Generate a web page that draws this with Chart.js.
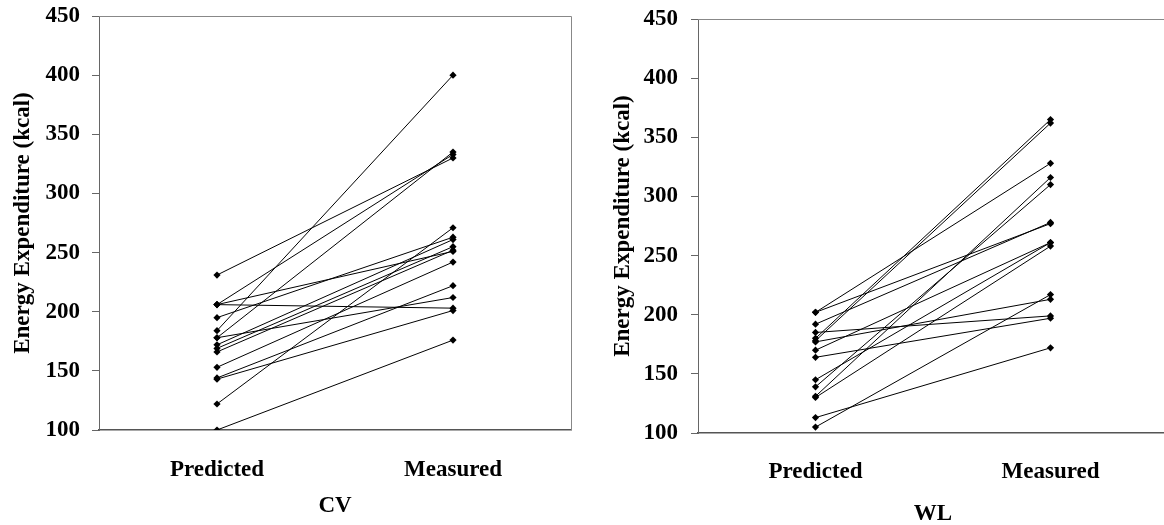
<!DOCTYPE html>
<html><head><meta charset="utf-8">
<script src="https://cdn.jsdelivr.net/npm/chart.js@4"></script>
<style>
html,body{margin:0;padding:0;background:#fff;overflow:hidden;width:1164px;height:525px;position:relative;}
.box{position:absolute;}
</style></head><body>
<div class="box" style="left:0;top:0;width:582px;height:525px"><canvas id="c1"></canvas></div>
<div class="box" style="left:600px;top:3px;width:580px;height:525px"><canvas id="c2"></canvas></div>
<script>
const categories = ['Predicted', 'Measured'];
const yTicks = [100, 150, 200, 250, 300, 350, 400, 450];
const yTitle = 'Energy Expenditure (kcal)';

// CV group: each index is one subject (Predicted -> Measured)
const cvPredicted = [231, 206, 206, 206, 195, 184, 178, 178, 172, 169, 166, 153, 144, 143, 122, 100];
const cvMeasured  = [330, 333, 203, 251, 263, 400, 335, 212, 261, 255, 252, 242, 222, 201, 271, 176];

// WL group
const wlPredicted = [202, 202, 192, 185, 180, 178, 177, 170, 164, 145, 139, 131, 130, 113, 105];
const wlMeasured  = [328, 277, 278, 199, 365, 362, 213, 261, 197, 261, 310, 316, 258, 172, 217];

const FONT = {family: "'Liberation Serif', 'Times New Roman', serif", size: 23, weight: 'bold'};

const frame = {
  id: 'frame',
  afterDraw(chart) {
    const {ctx, chartArea: a} = chart;
    ctx.save();
    ctx.strokeStyle = '#888';
    ctx.lineWidth = 1;
    ctx.beginPath();
    ctx.moveTo(a.left, a.top + 0.5);
    ctx.lineTo(a.right + 0.5, a.top + 0.5);
    ctx.lineTo(a.right + 0.5, a.bottom);
    ctx.stroke();
    ctx.restore();
  }
};

function makeChart(id, pred, meas, title, o) {
  const datasets = pred.map((p, i) => ({
    data: [p, meas[i]],
    borderColor: '#000', backgroundColor: '#000', borderWidth: 1,
    pointStyle: 'rectRot', pointRadius: 3.6, pointBorderWidth: 0,
    pointBackgroundColor: '#000', tension: 0, fill: false
  }));
  return new Chart(document.getElementById(id), {
    type: 'line',
    data: {labels: categories, datasets},
    options: {
      responsive: true, maintainAspectRatio: false, animation: false,
      layout: {padding: {top: o.top, right: o.right, left: 0, bottom: 0}},
      plugins: {legend: {display: false}, tooltip: {enabled: false}},
      scales: {
        x: {
          offset: true,
          grid: {display: false, drawTicks: false},
          border: {display: true, color: '#555', width: 1.5},
          ticks: {font: FONT, color: '#000', padding: o.xp, maxRotation: 0, autoSkip: false},
          title: {display: true, text: title, font: FONT, color: '#000', padding: {top: 0, bottom: o.tb}},
          afterFit(s) { s.height = 95; s.paddingLeft = 0; s.paddingRight = 0; }
        },
        y: {
          min: 100, max: 450,
          afterBuildTicks(s) { s.ticks = yTicks.map(v => ({value: v})); },
          ticks: {font: FONT, color: '#000', padding: o.yp},
          grid: {drawOnChartArea: false, drawTicks: true, tickLength: 7, color: '#666'},
          border: {display: true, color: '#666', width: 1},
          title: {display: true, text: yTitle, font: FONT, color: '#000', padding: {top: 9, bottom: 0}},
          afterFit(s) { s.width = o.yw; s.paddingTop = 0; s.paddingBottom = 0; }
        }
      }
    },
    plugins: [frame]
  });
}

makeChart('c1', cvPredicted, cvMeasured, 'CV', {top: 16, right: 11, yw: 99, xp: 26, tb: 5, yp: 12});
makeChart('c2', wlPredicted, wlMeasured, 'WL', {top: 16, right: 12, yw: 98, xp: 25, tb: 0, yp: 13});
</script>
</body></html>
